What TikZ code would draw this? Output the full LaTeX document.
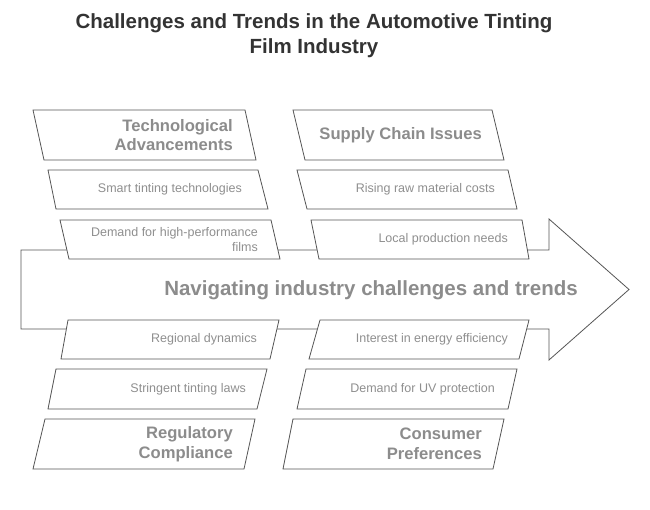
\documentclass[tikz,border=0pt]{standalone}
\usepackage{fontspec}
\setmainfont{Liberation Sans}
\definecolor{titlec}{HTML}{333333}
\definecolor{headc}{HTML}{8C8C8C}
\definecolor{itemc}{HTML}{8F8F8F}
\definecolor{linec}{HTML}{555555}
\tikzset{
  pbox/.style={draw=linec, fill=white, line width=0.8pt, line join=miter},
  arrowshape/.style={draw=linec, fill=white, line width=0.8pt},
  headtxt/.style={anchor=east, align=right, text=headc, font=\fontsize{16.6}{19.5}\selectfont\bfseries, inner sep=0pt},
  itemtxt/.style={anchor=east, align=right, text=itemc, font=\fontsize{12.5}{15}\selectfont, inner sep=0pt},
  titletxt/.style={align=center, text=titlec, font=\fontsize{20.5}{25}\selectfont\bfseries, inner sep=0pt},
  maintxt/.style={text=headc, font=\fontsize{20.5}{24}\selectfont\bfseries, inner sep=0pt}
}
\begin{document}
\begin{tikzpicture}[x=1pt,y=-1pt]
\useasboundingbox (0,0) rectangle (650,510);
\fill[white] (0,0) rectangle (650,510);
% title
\node[titletxt] (title) at (314,36) {Challenges and Trends in the Automotive Tinting\\Film Industry};
% arrow
\draw[arrowshape] (21,250) -- (549,250) -- (549,219) -- (629,289.5) -- (549,360) -- (549,329) -- (21,329) -- cycle;
\node[maintxt] (main) at (371,290) {Navigating industry challenges and trends};
% upper left
\draw[pbox] (33,110) -- (245,110) -- (256,160) -- (44,160) -- cycle;
\node[headtxt] (ta) at (233,135) {Technological\\Advancements};
\draw[pbox] (48,170) -- (258,170) -- (268,209) -- (56,209) -- cycle;
\node[itemtxt] (st) at (242,189.5) {Smart tinting technologies};
\draw[pbox] (60,220) -- (271,220) -- (280,259) -- (69,259) -- cycle;
\node[itemtxt] (hp) at (258,239.5) {Demand for high-performance\\films};
% upper right
\draw[pbox] (293,110) -- (492,110) -- (504,160) -- (305,160) -- cycle;
\node[headtxt] (sc) at (482,135) {Supply Chain Issues};
\draw[pbox] (297,170) -- (508,170) -- (517,209) -- (307,209) -- cycle;
\node[itemtxt] (rr) at (495,189.5) {Rising raw material costs};
\draw[pbox] (311,220) -- (522,220) -- (529,259) -- (319,259) -- cycle;
\node[itemtxt] (lp) at (508,239.5) {Local production needs};
% lower left
\draw[pbox] (68,320) -- (279,320) -- (270,359) -- (61,359) -- cycle;
\node[itemtxt] (rd) at (257,339.5) {Regional dynamics};
\draw[pbox] (56,369) -- (267,369) -- (257,409) -- (48,409) -- cycle;
\node[itemtxt] (sl) at (246,389) {Stringent tinting laws};
\draw[pbox] (45,419) -- (255,419) -- (244,469) -- (33,469) -- cycle;
\node[headtxt] (rc) at (233,444) {Regulatory\\Compliance};
% lower right
\draw[pbox] (320,320) -- (529,320) -- (519,359) -- (309,359) -- cycle;
\node[itemtxt] (ee) at (508,339.5) {Interest in energy efficiency};
\draw[pbox] (306,369) -- (517,369) -- (508,409) -- (297,409) -- cycle;
\node[itemtxt] (uv) at (495,389) {Demand for UV protection};
\draw[pbox] (293,419) -- (504,419) -- (493,469) -- (283,469) -- cycle;
\node[headtxt] (cp) at (482,444) {Consumer\\Preferences};
\end{tikzpicture}
\end{document}
